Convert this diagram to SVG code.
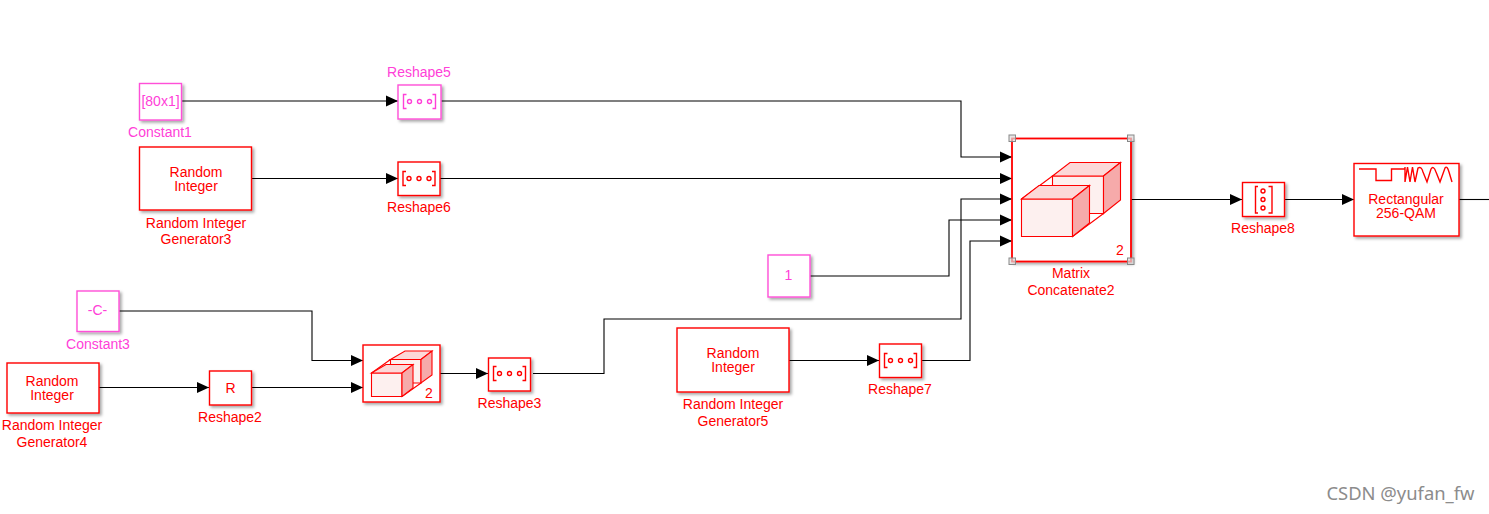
<svg xmlns="http://www.w3.org/2000/svg" width="1489" height="514" viewBox="0 0 1489 514">
<style>
text{font-family:"Liberation Sans",Arial,sans-serif;font-size:14px;fill:#f00;text-anchor:middle}
.b{fill:#fff;stroke:#f00;stroke-width:1.4;filter:url(#sh)}
.bm{fill:#fff;stroke:#ff50d8;stroke-width:1.4;filter:url(#sh)}
.w{fill:none;stroke:#000;stroke-width:1.1}
.i{fill:none;stroke:#f00;stroke-width:1.4}
.im{fill:none;stroke:#ff40d8;stroke-width:1.4}
.f1{fill:#fdf0ef;stroke:#f00;stroke-width:1.1}
.f2{fill:#fcd8d8;stroke:#f00;stroke-width:1.1}
.f3{fill:#f6aaaa;stroke:#f00;stroke-width:1.1}
.h{fill:#ddd;stroke:#888;stroke-width:1;fill-opacity:.7}
</style>
<defs>
<filter id="sh" x="-15%" y="-15%" width="135%" height="135%"><feDropShadow dx="2" dy="2" stdDeviation="1.4" flood-color="#000" flood-opacity="0.35"/></filter>
<marker id="a" markerUnits="userSpaceOnUse" markerWidth="14" markerHeight="14" refX="12" refY="7" orient="auto"><path d="M0 1.500L12 7L0 12.500Z" fill="#000"/></marker>
<g id="rh"><path d="M-13 -7H-16V7H-13M13 -7H16V7H13"/><circle cx="-10" cy="0" r="2"/><circle cx="0" cy="0" r="2"/><circle cx="10" cy="0" r="2"/></g>
</defs>
<g id="connectors">
<path class="w" marker-end="url(#a)" d="M181 101H398"/>
<path class="w" marker-end="url(#a)" d="M251 178.500H398"/>
<path class="w" marker-end="url(#a)" d="M441 101H961V157H1012"/>
<path class="w" marker-end="url(#a)" d="M440 178.500H1012"/>
<path class="w" marker-end="url(#a)" d="M533 373.500H604V319H961V199H1012"/>
<path class="w" marker-end="url(#a)" d="M810 276H949V220H1012"/>
<path class="w" marker-end="url(#a)" d="M921 360.500H970V241H1012"/>
<path class="w" marker-end="url(#a)" d="M119 311H312V360.500H363"/>
<path class="w" marker-end="url(#a)" d="M99 387.500H209"/>
<path class="w" marker-end="url(#a)" d="M251 387.500H363"/>
<path class="w" marker-end="url(#a)" d="M440 373.500H488"/>
<path class="w" marker-end="url(#a)" d="M789 360.500H879"/>
<path class="w" marker-end="url(#a)" d="M1131 199.500H1242"/>
<path class="w" marker-end="url(#a)" d="M1285 199.500H1354"/>
<path class="w" d="M1459 199.500H1489"/>
</g>
<g id="constant1"><rect class="bm" x="139.500" y="83.500" width="42" height="36.500"/><text style="fill:#ff40d8" x="160.500" y="106">[80x1]</text><text style="fill:#ff40d8" x="160" y="137">Constant1</text></g>
<g id="reshape5"><rect class="bm" x="398" y="85" width="43" height="34"/><use href="#rh" x="419.500" y="101.500" class="im"/><text style="fill:#ff40d8" x="419" y="77">Reshape5</text></g>
<g id="generator3"><rect class="b" x="139.500" y="147" width="112" height="63"/><text x="196" y="177">Random</text><text x="196" y="191">Integer</text><text x="196" y="228">Random Integer</text><text x="196" y="244">Generator3</text></g>
<g id="reshape6"><rect class="b" x="398" y="162" width="42" height="33.500"/><use href="#rh" x="419" y="178.500" class="i"/><text x="419" y="212">Reshape6</text></g>
<g id="constant3"><rect class="bm" x="77" y="291" width="42" height="40.500"/><text style="fill:#ff40d8" x="97.500" y="315">-C-</text><text style="fill:#ff40d8" x="98" y="349">Constant3</text></g>
<g id="generator4"><rect class="b" x="7" y="363" width="92" height="50"/><text x="52" y="386">Random</text><text x="52" y="400">Integer</text><text x="52" y="430">Random Integer</text><text x="52" y="447">Generator4</text></g>
<g id="reshape2"><rect class="b" x="209.500" y="371" width="42" height="34"/><text x="230.500" y="393">R</text><text x="230" y="422">Reshape2</text></g>
<g id="concat"><rect class="b" x="363" y="345" width="77" height="57"/>
<path class="i" style="stroke-width:1.1" d="M390.500 359.500L371.500 373M421 383L402 396.500"/>
<path class="f1" d="M390.500 359.500H421V383H390.500Z"/><path class="f2" d="M390.500 359.500L405 351H432L421 359.500Z"/><path class="f3" d="M421 359.500L432 351V375L421 383Z"/>
<path class="f1" d="M371.500 373H402V396.500H371.500Z"/><path class="f2" d="M371.500 373L386 364.500H413L402 373Z"/><path class="f3" d="M402 373L413 364.500V388L402 396.500Z"/>
<text x="429" y="398">2</text></g>
<g id="reshape3"><rect class="b" x="488.500" y="358" width="42" height="33"/><use href="#rh" x="509.500" y="373.500" class="i"/><text x="509.500" y="408">Reshape3</text></g>
<g id="constant2"><rect class="bm" x="768" y="255" width="42" height="42"/><text style="fill:#ff40d8" x="788.500" y="280">1</text></g>
<g id="generator5"><rect class="b" x="677" y="328" width="112" height="64"/><text x="733" y="358">Random</text><text x="733" y="372">Integer</text><text x="733" y="409">Random Integer</text><text x="733" y="426">Generator5</text></g>
<g id="reshape7"><rect class="b" x="879.500" y="344" width="42" height="33.500"/><use href="#rh" x="900.500" y="360.500" class="i"/><text x="900" y="394">Reshape7</text></g>
<g id="concat2"><rect x="1012" y="138.500" width="119" height="123" fill="#fff" stroke="#f00" stroke-width="1.800" filter="url(#sh)"/>
<path class="i" style="stroke-width:1.1" d="M1052.500 176L1021.500 199M1103.500 213.500L1072.500 236.500"/>
<path class="f1" d="M1052.500 176H1103.500V213.500H1052.500Z"/><path class="f2" d="M1052.500 176L1070 162.500H1120.500L1103.500 176Z"/><path class="f3" d="M1103.500 176L1120.500 162.500V200L1103.500 213.500Z"/>
<path class="f1" d="M1021.500 199H1072.500V236.500H1021.500Z"/><path class="f2" d="M1021.500 199L1039 185.500H1089.500L1072.500 199Z"/><path class="f3" d="M1072.500 199L1089.500 185.500V223L1072.500 236.500Z"/>
<text x="1120" y="255">2</text>
<rect class="h" x="1009" y="135" width="6.500" height="6.500"/><rect class="h" x="1127.500" y="135" width="6.500" height="6.500"/><rect class="h" x="1009" y="258" width="6.500" height="6.500"/><rect class="h" x="1127.500" y="258" width="6.500" height="6.500"/>
<text x="1071" y="278">Matrix</text><text x="1071" y="295">Concatenate2</text></g>
<g id="reshape8"><rect class="b" x="1242.500" y="182.500" width="42" height="34"/>
<path class="i" d="M1258 186.500H1255.500V213H1258M1268.500 186.500H1272V213H1268.500"/><circle class="i" cx="1263" cy="191" r="2"/><circle class="i" cx="1263" cy="199.500" r="2"/><circle class="i" cx="1263" cy="208" r="2"/>
<text x="1263" y="233">Reshape8</text></g>
<g id="qam"><rect class="b" x="1354" y="163.500" width="105" height="72.500"/>
<path class="i" d="M1359 169H1376V180.500H1391.500V169H1405M1405 167V182L1407.500 167L1410 182L1412.500 167L1415 182L1418 168Q1421.500 166 1423 172L1427 182L1431 169Q1433.500 165 1436 172L1440 182L1445 168Q1447 165 1449 172L1452 182"/>
<text x="1406" y="204">Rectangular</text><text x="1406" y="218">256-QAM</text></g>
<text x="1400.500" y="500" style="font-size:18.400px;fill:#8c8c8c;font-family:'Noto Sans','Liberation Sans',sans-serif">CSDN @yufan_fw</text>
</svg>
